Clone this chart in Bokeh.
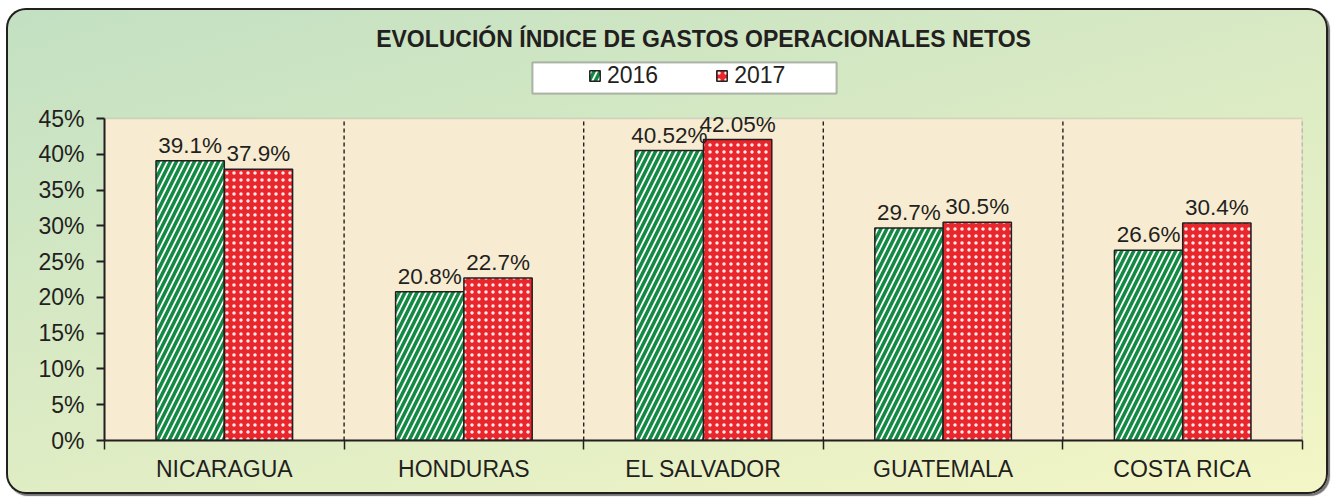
from bokeh.plotting import figure
from bokeh.models import (ColumnDataSource, FixedTicker, PrintfTickFormatter, Legend, LegendItem,
                          BoxAnnotation, Range1d, Node)
from bokeh.core.properties import value
from bokeh.embed import file_html
from bokeh.resources import INLINE

categories = ["NICARAGUA", "HONDURAS", "EL SALVADOR", "GUATEMALA", "COSTA RICA"]
values_2016 = [39.1, 20.8, 40.52, 29.7, 26.6]
values_2017 = [37.9, 22.7, 42.05, 30.5, 30.4]
series_names = ["2016", "2017"]
y_ticks = [0, 5, 10, 15, 20, 25, 30, 35, 40, 45]
title_text = "EVOLUCIÓN ÍNDICE DE GASTOS OPERACIONALES NETOS"

FONT = "Liberation Sans"
TXT = "#231f20"
BW = 0.285

W, H = 1322, 486
MB_L, MB_R, MB_T, MB_B = 98, 26, 48, 54
frame_h = H - MB_T - MB_B
axis_px = 322  # pixel height of the 0..45 value axis
y_end = y_ticks[-1] * frame_h / axis_px

n = len(categories)
idx = list(range(n))
src16 = ColumnDataSource(dict(x=[i + 0.5 - BW / 2 for i in idx], top=values_2016,
                              label=[f"{v}%" for v in values_2016]))
src17 = ColumnDataSource(dict(x=[i + 0.5 + BW / 2 for i in idx], top=values_2017,
                              label=[f"{v}%" for v in values_2017]))

p = figure(width=W, height=H, output_backend="svg", toolbar_location=None,
           x_range=Range1d(0, n), y_range=Range1d(0, y_end),
           min_border_left=MB_L, min_border_right=MB_R, min_border_top=MB_T, min_border_bottom=MB_B)
p.border_fill_color = None
p.background_fill_color = None
p.outline_line_color = None
p.styles = {
    "margin": "8px 0 0 6px",
    "background": "linear-gradient(165deg, #c2e0c2 0%, #d9eac4 45%, #f4f6c6 100%)",
    "border-radius": "20px",
    "box-shadow": "inset 0 0 0 2px #231f20, 2px 2px 1px rgba(0,0,0,0.55)",
}

p.title.text = title_text
p.title.align = "center"
p.title.text_font = FONT
p.title.text_font_size = "23px"
p.title.text_font_style = "bold"
p.title.text_color = TXT
p.title.standoff = 9

# value-area background
p.add_layout(BoxAnnotation(left=0, right=n, bottom=0, top=y_ticks[-1], fill_color="#f7ecd2",
                           fill_alpha=1, line_color="#9a9a9a", line_width=1.5, level="underlay"))

# category separators
p.segment(x0=list(range(1, n)), x1=list(range(1, n)), y0=[0] * (n - 1), y1=[y_ticks[-1]] * (n - 1),
          line_color=TXT, line_dash="4 3", line_width=1.4)
p.segment(x0=[n], x1=[n], y0=[0], y1=[y_ticks[-1]], line_color="#9a9a9a", line_dash="4 3", line_width=1.5)

r16 = p.vbar(x="x", top="top", width=BW, source=src16, fill_color="#138a43",
             hatch_pattern="right_diagonal_line", hatch_color="white", hatch_weight=1.8,
             hatch_scale=12, line_color=TXT, line_width=1.5)
r17 = p.vbar(x="x", top="top", width=BW, source=src17, fill_color="#e8262b",
             hatch_pattern="dot", hatch_color="white", hatch_weight=1,
             hatch_scale=7, hatch_alpha=0.9, line_color=TXT, line_width=1.5)

for s in (src16, src17):
    p.text(x="x", y="top", text="label", source=s, text_align="center",
           text_baseline="bottom", y_offset=-3, text_font=value(FONT),
           text_font_size="22.5px", text_color=TXT)

# axes
xa = p.xaxis[0]
xa.ticker = FixedTicker(ticks=[i + 0.5 for i in idx], minor_ticks=list(range(n + 1)))
xa.major_label_overrides = {i + 0.5: c for i, c in zip(idx, categories)}
xa.major_tick_out = 0
xa.major_tick_in = 0
xa.minor_tick_out = 9
xa.minor_tick_in = 0
xa.minor_tick_line_color = TXT
xa.minor_tick_line_width = 1.5
xa.axis_line_color = TXT
xa.axis_line_width = 2
xa.major_label_text_font = FONT
xa.major_label_text_font_size = "23px"
xa.major_label_text_color = TXT
xa.major_label_standoff = 6

ya = p.yaxis[0]
ya.ticker = FixedTicker(ticks=y_ticks, minor_ticks=[])
ya.formatter = PrintfTickFormatter(format="%d%%")
ya.bounds = (0, y_ticks[-1])
ya.major_tick_out = 8
ya.major_tick_in = 0
ya.major_tick_line_color = TXT
ya.major_tick_line_width = 2
ya.axis_line_color = TXT
ya.axis_line_width = 2
ya.major_label_text_font = FONT
ya.major_label_text_font_size = "23px"
ya.major_label_text_color = TXT
ya.major_label_standoff = 12

p.xgrid.visible = False
p.ygrid.visible = False

# legend frame
p.add_layout(BoxAnnotation(left=Node(target="frame", symbol="left", offset=428),
                           right=Node(target="frame", symbol="left", offset=732),
                           top=Node(target="frame", symbol="top", offset=6),
                           bottom=Node(target="frame", symbol="top", offset=37),
                           fill_color="white", fill_alpha=1, line_color=TXT, line_width=2,
                           level="underlay"))

legend = Legend(items=[LegendItem(label=series_names[0], renderers=[r16]),
                       LegendItem(label=series_names[1], renderers=[r17])],
                orientation="horizontal", location=(484, 351),
                background_fill_alpha=0, border_line_color=None, padding=0, margin=0,
                glyph_width=13, glyph_height=13, label_standoff=6, spacing=57,
                label_text_font=FONT, label_text_font_size="23px", label_text_color=TXT,
                label_height=23)
p.add_layout(legend, "center")

open("out.html", "w").write(file_html(p, INLINE))
